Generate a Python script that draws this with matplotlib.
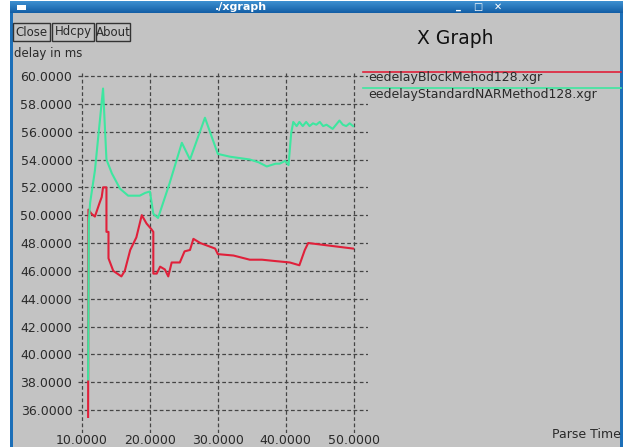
import numpy as np
import matplotlib
matplotlib.use("Agg")
import matplotlib.pyplot as plt
from matplotlib.patches import Rectangle

W, H = 627, 447

# series
block_x = [10.9, 10.95, 11.4, 11.9, 12.6, 12.9, 13.1, 13.6, 13.6, 13.9, 13.9, 14.6, 15.8, 16.3,
           17.1, 18.0, 18.8, 19.5, 20.2, 20.5, 20.5, 21.0, 21.5, 22.2, 22.7, 23.2, 24.4, 25.1,
           25.9, 26.4, 27.4, 29.6, 30.0, 32.3, 34.7, 36.5, 38.5, 40.6, 42.0, 42.8, 43.3, 49.9]
block_y = [35.5, 50.4, 50.1, 49.9, 50.9, 51.3, 52.0, 52.0, 48.8, 48.8, 46.9, 46.0, 45.6, 46.0,
           47.5, 48.4, 50.0, 49.4, 49.0, 48.8, 45.8, 45.8, 46.3, 46.1, 45.6, 46.6, 46.6, 47.4,
           47.5, 48.3, 48.0, 47.6, 47.2, 47.1, 46.8, 46.8, 46.7, 46.6, 46.4, 47.5, 48.0, 47.6]

nar_x = [10.9, 11.0, 11.2, 11.9, 13.1, 13.6, 14.4, 15.6, 16.8, 18.5, 19.3, 20.0, 20.5, 21.2,
         22.9, 24.7, 25.9, 28.1, 30.0, 31.8, 34.7, 36.0, 37.2, 38.5, 39.1, 39.9, 40.4, 40.8,
         41.1, 41.6, 42.0, 42.5, 43.0, 43.5, 44.0, 44.5, 45.0, 45.5, 46.0, 46.9, 47.9, 48.4,
         48.9, 49.4, 49.9]
nar_y = [38.2, 49.5, 50.9, 53.2, 59.1, 54.0, 53.0, 51.9, 51.4, 51.4, 51.6, 51.7, 50.1, 49.8,
         52.3, 55.2, 54.0, 57.0, 54.4, 54.2, 54.0, 53.8, 53.5, 53.7, 53.7, 53.9, 53.6, 55.9,
         56.7, 56.4, 56.7, 56.4, 56.7, 56.4, 56.6, 56.5, 56.7, 56.4, 56.5, 56.2, 56.8, 56.5,
         56.4, 56.6, 56.4]

x_ticks = [10, 20, 30, 40, 50]
y_ticks = [36, 38, 40, 42, 44, 46, 48, 50, 52, 54, 56, 58, 60]
legend_names = ["eedelayBlockMehod128.xgr", "eedelayStandardNARMethod128.xgr"]

RED = "#e0203a"
GREEN = "#3ee6a0"
GRAY = "#c3c3c3"
TXT = "#2a2a2a"


def fx(px):
    return px / W


def fy(py):
    return 1 - py / H


fig = plt.figure(figsize=(W / 100, H / 100), dpi=100)
fig.patch.set_facecolor("white")

# window frame and client area
fig.patches.append(Rectangle((fx(10), 0), fx(623) - fx(10), fy(1), transform=fig.transFigure,
                             facecolor="#1c6fb8", edgecolor="none", zorder=-10))
fig.patches.append(Rectangle((fx(13), 0), fx(620) - fx(13), fy(13), transform=fig.transFigure,
                             facecolor=GRAY, edgecolor="none", zorder=-9))

# title bar gradient
tb = fig.add_axes([fx(10), fy(13), fx(613), 12 / H])
grad = np.linspace(0, 1, 20).reshape(-1, 1)
tb.imshow(grad, aspect="auto", cmap=matplotlib.colors.LinearSegmentedColormap.from_list(
    "tb", ["#3d8fd0", "#135fa6"]), extent=[0, 1, 0, 1])
tb.set_axis_off()
fig.text(fx(241), fy(7), "./xgraph", color="white", fontsize=8, fontweight="bold",
         ha="center", va="center")
fig.patches.append(Rectangle((fx(17), fy(10)), 9 / W, 5 / H, transform=fig.transFigure,
                             facecolor="white", edgecolor="none", zorder=5))
fig.text(fx(458), fy(6), "_", color="white", fontsize=7, fontweight="bold", ha="center", va="center")
fig.text(fx(478), fy(7), "□", color="white", fontsize=7, fontweight="bold", ha="center", va="center")
fig.text(fx(498), fy(7), "✕", color="white", fontsize=7, fontweight="bold", ha="center", va="center")

# buttons
for label, x0, x1 in [("Close", 13, 50), ("Hdcpy", 52, 94), ("About", 96, 130)]:
    fig.patches.append(Rectangle((fx(x0), fy(41)), (x1 - x0) / W, 18 / H, transform=fig.transFigure,
                                 facecolor=GRAY, edgecolor="#333333", linewidth=1.0, zorder=2))
    fig.text(fx((x0 + x1) / 2), fy(32), label, color=TXT, fontsize=8.5, ha="center", va="center")

fig.text(fx(417), fy(39), "X Graph", color="#111111", fontsize=13.5, ha="left", va="center")
fig.text(fx(14), fy(53), "delay in ms", color=TXT, fontsize=8.5, ha="left", va="center")
fig.text(fx(621), fy(434), "Parse Time", color=TXT, fontsize=9, ha="right", va="center")

# legend lines and names
for i, (name, col) in enumerate(zip(legend_names, [RED, GREEN])):
    y = 72 + 16 * i
    fig.lines.append(plt.Line2D([fx(363), fx(621)], [fy(y), fy(y)], transform=fig.transFigure,
                                color=col, linewidth=1.2))
    fig.text(fx(368), fy(y + 6), name, color=TXT, fontsize=9, ha="left", va="center")

# plot area
x_left, x_right = 10 - 4 / 6.8, 10 + (368 - 81.7) / 6.8
y_top, y_bot = 60 + 4 / 13.92, 36 - 23 / 13.92
ax = fig.add_axes([fx(78), fy(433), (368 - 78) / W, (433 - 72) / H])
ax.set_zorder(3)
ax.set_facecolor("none")
ax.set_xlim(x_left, x_right)
ax.set_ylim(y_bot, y_top)
ax.plot(block_x, block_y, color=RED, linewidth=1.5, zorder=3)
ax.plot(nar_x, nar_y, color=GREEN, linewidth=1.5, zorder=4)

ax.set_xticks(x_ticks)
ax.set_yticks(y_ticks)
ax.set_xticklabels(["%.4f" % v for v in x_ticks])
ax.set_yticklabels(["%.4f" % v for v in y_ticks])
ax.tick_params(axis="both", length=0, labelsize=9, colors=TXT)
ax.tick_params(axis="y", pad=4)
ax.tick_params(axis="x", pad=1)
ax.grid(True, color="#454545", linestyle=(0, (3, 2)), linewidth=0.9)
for s in ax.spines.values():
    s.set_visible(False)

fig.savefig("out.png", dpi=100)
